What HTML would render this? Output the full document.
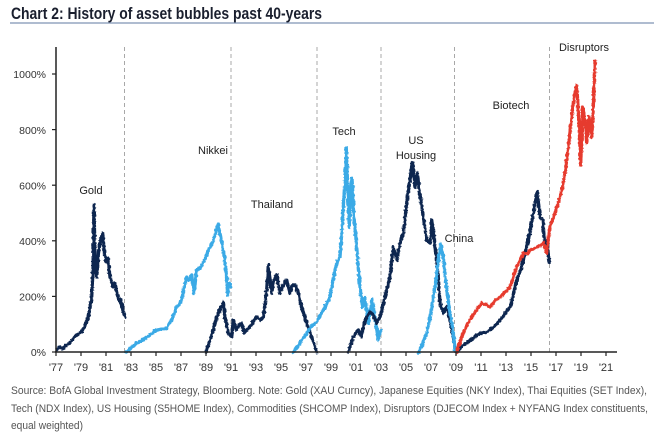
<!DOCTYPE html>
<html><head><meta charset="utf-8"><style>
html,body{margin:0;padding:0;background:#fff;}
svg{display:block;}
text{font-family:"Liberation Sans",sans-serif;}
</style></head><body>
<svg width="654" height="436" viewBox="0 0 654 436" xmlns="http://www.w3.org/2000/svg">
<defs>
<filter id="rough" x="-5%" y="-5%" width="110%" height="110%">
<feTurbulence type="fractalNoise" baseFrequency="0.35" numOctaves="2" seed="3" result="n"/>
<feDisplacementMap in="SourceGraphic" in2="n" scale="3" xChannelSelector="R" yChannelSelector="G"/>
</filter>
</defs>
<rect width="654" height="436" fill="#fff"/>
<!-- title -->
<text x="11" y="19" font-size="17" font-weight="bold" fill="#1a1f2e" textLength="311" lengthAdjust="spacingAndGlyphs">Chart 2: History of asset bubbles past 40-years</text>
<line x1="10" y1="23" x2="654" y2="23" stroke="#7f93b5" stroke-width="1.3"/>

<!-- dashed verticals -->
<g stroke="#a8a8a8" stroke-width="1" stroke-dasharray="4,3">
<line x1="124.5" y1="47" x2="124.5" y2="352"/>
<line x1="231" y1="47" x2="231" y2="352"/>
<line x1="317" y1="47" x2="317" y2="352"/>
<line x1="381" y1="47" x2="381" y2="352"/>
<line x1="454.5" y1="47" x2="454.5" y2="352"/>
<line x1="549.5" y1="47" x2="549.5" y2="352"/>
</g>

<!-- series -->
<g fill="none" stroke-width="3.3" stroke-linejoin="round" stroke-linecap="round" filter="url(#rough)">
<!-- Gold -->
<polyline stroke="#0e2650" points="56.7,350 60,347 63,349 66,345 70,343 73,339 76.7,335 80,333 83,330 86,324 88,317 90,308 91.7,297 93,270 94,205 95.3,270 96.7,277 98.7,250 100.7,240 102.7,233 104,250 106.7,263 108,258 110,277 113.3,287 115,283 116.7,293 120,303 121,300 123.3,312 125.3,317"/>
<!-- Nikkei -->
<polyline stroke="#3aaae6" points="126,352 131,348 136.7,343 141,341 146.7,337 151,334 156.7,330 162,329 166.7,328 169,324 171.7,320 176.7,307 179,305 181.7,300 184,288 186.7,277 189,280 191.7,275 194,293 196.7,270 200,268 203.3,263 206,257 208.3,250 211,246 213.3,240 216,232 218.3,224 220.7,237 223.3,250 226,270 227.7,295 229.3,283 230.7,287"/>
<!-- Thailand -->
<polyline stroke="#0e2650" points="206,352 210,340 213,330 215,323 218.3,313 223.3,302 225,317 228.3,333 231.7,337 233.3,320 236.7,330 239,325 241.7,323 244,333 246.7,330 250,327 253,322 256.7,317 260,320 263.3,317 266.7,290 268.3,265 271.7,293 274,280 276.7,275 280,293 283.3,285 286.7,280 290,293 292,286 295,285 298.3,293 301.7,307 306.7,323 311.7,337 316.7,352"/>
<!-- Tech -->
<polyline stroke="#3aaae6" points="293.3,352 300,343 306.7,333 311,327 316.7,322 320,316 323.3,310 326,305 330,297 332,285 335,270 337,262 340,257 342,230 343.3,207 345,180 346.3,148 347.7,187 349.3,227 350.7,190 352,178 354,217 356.7,247 358,265 360,287 362.7,307 365,297 368.3,323 371.7,300 375,317 378.3,340 380.7,330"/>
<!-- US Housing -->
<polyline stroke="#0e2650" points="348.3,352 353.3,337 358.3,330 361.7,337 363.3,327 366.7,317 370,312 373.3,315 376.7,323 380,317 383,305 385,297 388,285 390,277 393.3,247 396.7,260 400,243 403.3,233 406.7,203 410,180 412.3,162 415,187 417.3,173 420,195 423.3,217 426.7,240 430,243 431.7,220 435,247 438.3,277 440,303 443.3,313 446.7,307 450,320 453.3,337 455.7,352"/>
<!-- China -->
<polyline stroke="#3aaae6" points="418.3,353 422,345 426.7,333 429,322 431.7,307 435,287 438.3,260 440.7,244 443.3,257 446.7,290 450,313 453.3,333 455,350"/>
<!-- Biotech -->
<polyline stroke="#0e2650" points="456.7,352 461,347 466.7,343 472,339 476,336 480,333 485,333 490,330 495,326 500,320 505,314 510,307 513,296 516.7,280 521.7,267 525,253 528.3,240 531,226 533.3,213 537.3,192 540,217 542.7,220 545,247 547.3,240 549.3,262"/>
<!-- Disruptors -->
<polyline stroke="#e63a2e" points="456.7,352 460,342 463.3,333 467,325 471.7,317 476,311 481.7,303 486,305 490,307 495,301 500,297 505,292 510,287 513,278 516.7,267 520,260 523.3,253 527,254 530,250 533,249 536.7,247 540,246 543.3,243 546.7,253 550,227 555,213 560,197 563,185 565,173 568.3,147 571.7,117 574,97 576.7,85 579,123 580.7,165 582.7,107 585,120 586.7,143 589,117 591.7,137 593.3,107 594.3,80 595,61"/>
</g>

<!-- axes -->
<line x1="56" y1="47" x2="56" y2="352.5" stroke="#222" stroke-width="1.5"/>
<line x1="55" y1="352" x2="617" y2="352" stroke="#222" stroke-width="1.5"/>
<g stroke="#222" stroke-width="1.2">
<line x1="52" y1="352" x2="56" y2="352"/>
<line x1="52" y1="296.4" x2="56" y2="296.4"/>
<line x1="52" y1="240.8" x2="56" y2="240.8"/>
<line x1="52" y1="185.2" x2="56" y2="185.2"/>
<line x1="52" y1="129.6" x2="56" y2="129.6"/>
<line x1="52" y1="74" x2="56" y2="74"/>
<line x1="56" y1="352" x2="56" y2="356"/><line x1="81" y1="352" x2="81" y2="356"/><line x1="106" y1="352" x2="106" y2="356"/><line x1="131" y1="352" x2="131" y2="356"/><line x1="156" y1="352" x2="156" y2="356"/><line x1="181" y1="352" x2="181" y2="356"/><line x1="206" y1="352" x2="206" y2="356"/><line x1="231" y1="352" x2="231" y2="356"/><line x1="256" y1="352" x2="256" y2="356"/><line x1="281" y1="352" x2="281" y2="356"/><line x1="306" y1="352" x2="306" y2="356"/><line x1="331" y1="352" x2="331" y2="356"/><line x1="356" y1="352" x2="356" y2="356"/><line x1="381" y1="352" x2="381" y2="356"/><line x1="406" y1="352" x2="406" y2="356"/><line x1="431" y1="352" x2="431" y2="356"/><line x1="456" y1="352" x2="456" y2="356"/><line x1="481" y1="352" x2="481" y2="356"/><line x1="506" y1="352" x2="506" y2="356"/><line x1="531" y1="352" x2="531" y2="356"/><line x1="556" y1="352" x2="556" y2="356"/><line x1="581" y1="352" x2="581" y2="356"/><line x1="606" y1="352" x2="606" y2="356"/>
</g>

<!-- y labels -->
<g font-size="10.5" fill="#333" text-anchor="end">
<text x="46" y="356">0%</text>
<text x="46" y="300.5">200%</text>
<text x="46" y="245">400%</text>
<text x="46" y="189.5">600%</text>
<text x="46" y="134">800%</text>
<text x="46" y="78">1000%</text>
</g>

<!-- x labels -->
<g font-size="11" fill="#333" text-anchor="middle">
<text x="56" y="371">'77</text><text x="81" y="371">'79</text><text x="106" y="371">'81</text><text x="131" y="371">'83</text><text x="156" y="371">'85</text><text x="181" y="371">'87</text><text x="206" y="371">'89</text><text x="231" y="371">'91</text><text x="256" y="371">'93</text><text x="281" y="371">'95</text><text x="306" y="371">'97</text><text x="331" y="371">'99</text><text x="356" y="371">'01</text><text x="381" y="371">'03</text><text x="406" y="371">'05</text><text x="431" y="371">'07</text><text x="456" y="371">'09</text><text x="481" y="371">'11</text><text x="506" y="371">'13</text><text x="531" y="371">'15</text><text x="556" y="371">'17</text><text x="581" y="371">'19</text><text x="606" y="371">'21</text>
</g>

<!-- annotations -->
<g font-size="11" fill="#222" text-anchor="middle">
<text x="91" y="194">Gold</text>
<text x="213" y="154">Nikkei</text>
<text x="272" y="208">Thailand</text>
<text x="344" y="135">Tech</text>
<text x="416" y="144">US</text>
<text x="416" y="159">Housing</text>
<text x="459" y="242">China</text>
<text x="511" y="109">Biotech</text>
<text x="584" y="51">Disruptors</text>
</g>

<!-- footnote -->
<g font-size="11" fill="#555">
<text x="11" y="394" textLength="636" lengthAdjust="spacingAndGlyphs">Source:  BofA Global Investment Strategy, Bloomberg. Note: Gold (XAU Curncy),  Japanese Equities (NKY  Index), Thai Equities (SET  Index),</text>
<text x="11" y="412" textLength="637" lengthAdjust="spacingAndGlyphs">Tech (NDX Index),  US Housing  (S5HOME   Index), Commodities (SHCOMP  Index), Disruptors (DJECOM Index + NYFANG Index constituents,</text>
<text x="11" y="429" textLength="72" lengthAdjust="spacingAndGlyphs">equal weighted)</text>
</g>
</svg>
</body></html>
